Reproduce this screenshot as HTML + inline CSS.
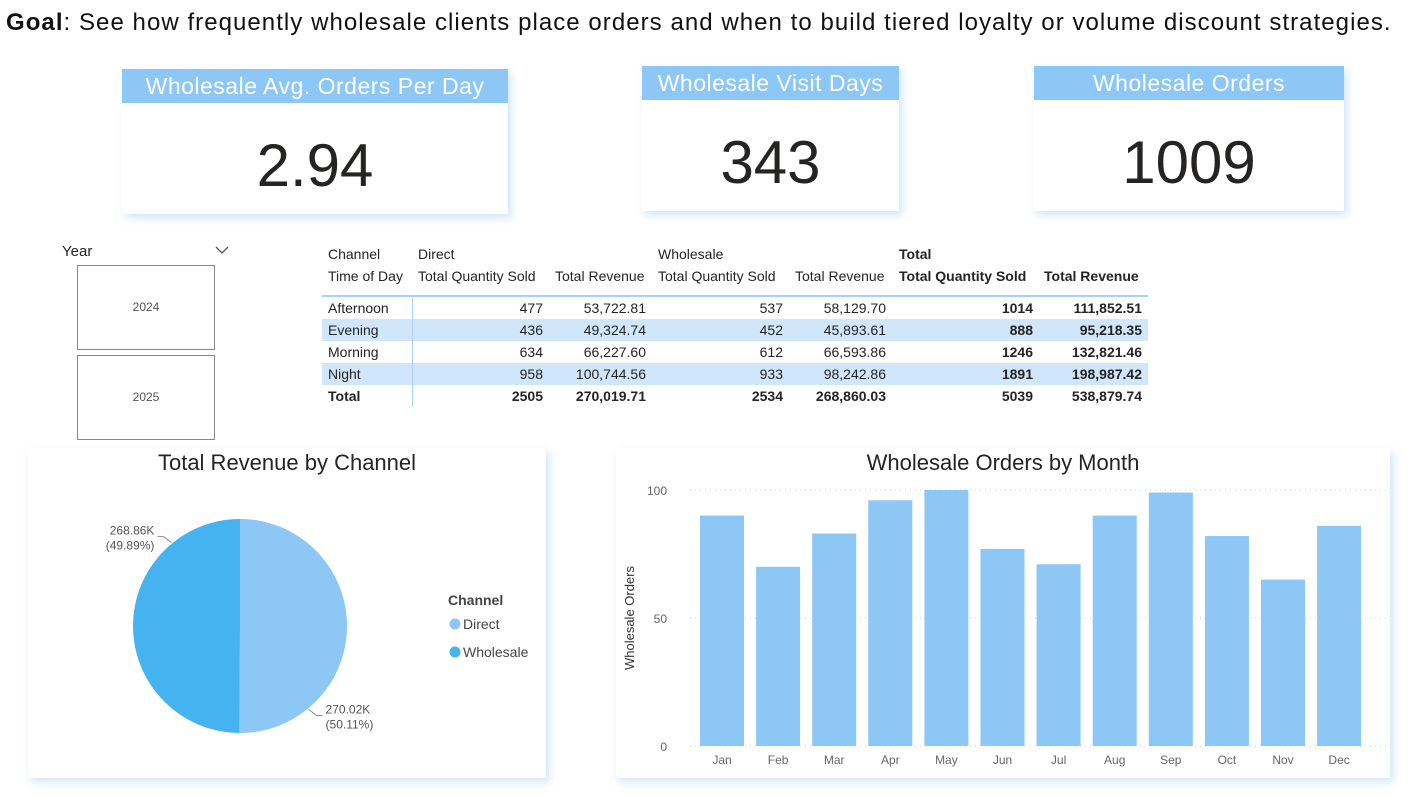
<!DOCTYPE html>
<html><head><meta charset="utf-8"><style>
body{margin:0;width:1416px;height:797px;background:#fff;font-family:"Liberation Sans",sans-serif;position:relative;overflow:hidden;color:#252423}
.abs{position:absolute}
.card{position:absolute;background:#fff;box-shadow:3px 4px 8px rgba(120,180,240,0.35)}
.hdr{position:absolute;left:0;right:0;top:0;height:34px;background:#8CC7F5;color:#fff;font-size:23px;text-align:center;line-height:34px;letter-spacing:0.5px}
.val{position:absolute;left:0;right:0;text-align:center;font-size:60px;color:#252423}
</style></head><body>
<div class="abs" style="left:6px;top:9px;font-size:24px;letter-spacing:1.05px;color:#111;white-space:nowrap"><b>Goal</b>: See how frequently wholesale clients place orders and when to build tiered loyalty or volume discount strategies.</div>

<div class="card" style="left:122px;top:69px;width:386px;height:145px"><div class="hdr">Wholesale Avg. Orders Per Day</div><div class="val" style="top:62px">2.94</div></div>
<div class="card" style="left:642px;top:66px;width:257px;height:145px"><div class="hdr">Wholesale Visit Days</div><div class="val" style="top:62px">343</div></div>
<div class="card" style="left:1034px;top:66px;width:310px;height:145px"><div class="hdr">Wholesale Orders</div><div class="val" style="top:62px">1009</div></div>

<div class="abs" style="left:62px;top:243px;font-size:15px">Year</div>
<svg class="abs" style="left:214px;top:245px" width="16" height="10"><polyline points="2,2 8,8 14,2" fill="none" stroke="#555" stroke-width="1.3"/></svg>
<div class="abs" style="left:77px;top:265px;width:136px;height:83px;border:1px solid #888;font-size:12px;color:#555;text-align:center;line-height:83px">2024</div>
<div class="abs" style="left:77px;top:355px;width:136px;height:83px;border:1px solid #888;font-size:12px;color:#555;text-align:center;line-height:83px">2025</div>

<div class="abs" style="left:0;top:0;width:1416px;height:420px;font-size:14px">
<div class="abs" style="left:322px;top:319px;width:826px;height:22px;background:#D0E7FB"></div>
<div class="abs" style="left:322px;top:363px;width:826px;height:22px;background:#D0E7FB"></div>
<div class="abs" style="left:322px;top:295px;width:826px;height:2px;background:#A9D2F6"></div>
<div class="abs" style="left:412px;top:297px;width:1px;height:110px;background:#A9D2F6"></div>
<div id="tbl"></div>
</div>

<div class="card" style="left:28px;top:448px;width:518px;height:330px"></div>
<div class="abs" style="left:28px;top:450px;width:518px;text-align:center;font-size:22px">Total Revenue by Channel</div>
<svg id="pie" class="abs" style="left:28px;top:448px" width="518" height="330"></svg>

<div class="card" style="left:616px;top:448px;width:774px;height:330px"></div>
<div class="abs" style="left:616px;top:450px;width:774px;text-align:center;font-size:22px">Wholesale Orders by Month</div>
<svg id="bar" class="abs" style="left:616px;top:448px" width="774" height="330"></svg>

<script>
const rowsT=[["Afternoon","477","53,722.81","537","58,129.70","1014","111,852.51"],["Evening","436","49,324.74","452","45,893.61","888","95,218.35"],["Morning","634","66,227.60","612","66,593.86","1246","132,821.46"],["Night","958","100,744.56","933","98,242.86","1891","198,987.42"],["Total","2505","270,019.71","2534","268,860.03","5039","538,879.74"]];
const rights=[543,646,783,886,1033,1142];
const tbl=document.getElementById('tbl');
function txt(s,x,y,opts){const d=document.createElement('div');d.className='abs';d.textContent=s;d.style.top=(y-8)+'px';if(opts&&opts.right){d.style.right=(1416-x)+'px';}else d.style.left=x+'px';if(opts&&opts.bold)d.style.fontWeight='bold';tbl.appendChild(d);}
txt("Channel",328,254);txt("Direct",418,254);txt("Wholesale",658,254);txt("Total",899,254,{bold:1});
txt("Time of Day",328,276);txt("Total Quantity Sold",418,276);txt("Total Revenue",555,276);txt("Total Quantity Sold",658,276);txt("Total Revenue",795,276);txt("Total Quantity Sold",899,276,{bold:1});txt("Total Revenue",1044,276,{bold:1});
rowsT.forEach((r,i)=>{const y=308+i*22;const tot=i==4;txt(r[0],328,y,{bold:tot});for(let j=1;j<7;j++)txt(r[j],rights[j-1],y,{right:1,bold:tot||j>=5});});

const channels=["Direct","Wholesale"];
const revenue=[270.02,268.86];
const pieColors=["#8CC7F5","#45B3F0"];
const NS="http://www.w3.org/2000/svg";
const pie=document.getElementById('pie');
function el(t,a,p){const e=document.createElementNS(NS,t);for(const k in a)e.setAttribute(k,a[k]);(p||pie).appendChild(e);return e;}
const cx=212,cy=178,R=107,total=revenue.reduce((a,b)=>a+b,0);
let ang=0;
revenue.forEach((v,i)=>{const a0=ang,a1=ang+v/total*2*Math.PI;ang=a1;
 const x0=cx+R*Math.sin(a0),y0=cy-R*Math.cos(a0),x1=cx+R*Math.sin(a1),y1=cy-R*Math.cos(a1);
 const p=el('path',{d:`M${cx},${cy}L${x0},${y0}A${R},${R} 0 ${a1-a0>Math.PI?1:0} 1 ${x1},${y1}Z`,fill:pieColors[i]});
 
 
 const mid=(a0+a1)/2+Math.PI*0.28;
 const lx=cx+(R+1)*Math.sin(mid),ly=cy-(R+1)*Math.cos(mid);
 const right=Math.sin(mid)>0;
 const ex=lx+(right?8:-8),ey=ly+(Math.cos(mid)<0?6:-6);
 el('polyline',{points:`${lx},${ly} ${ex},${ey} ${ex+(right?6:-6)},${ey}`,fill:'none',stroke:'#999'});
 const tx=ex+(right?9:-9);const anchor=right?'start':'end';
 const pct=(v/total*100).toFixed(2);
 const t1=el('text',{x:tx,y:ey-2,'font-size':12,fill:'#555','text-anchor':anchor});t1.textContent=v.toFixed(2)+'K';
 
 
 const t2=el('text',{x:tx,y:ey+13,'font-size':12,fill:'#555','text-anchor':anchor});t2.textContent='('+pct+'%)';
});
const lt=el('text',{x:420,y:157,'font-size':14,'font-weight':'bold',fill:'#444'});lt.textContent='Channel';
channels.forEach((c,i)=>{const y=176+i*28;
 const g=el('g',{});
 
 el('circle',{cx:427,cy:y,r:5.5,fill:pieColors[i]},g);
 const t=el('text',{x:435,y:y+5,'font-size':14,fill:'#444'},g);t.textContent=c;});

const months=["Jan","Feb","Mar","Apr","May","Jun","Jul","Aug","Sep","Oct","Nov","Dec"];
const orders=[90,70,83,96,100,77,71,90,99,82,65,86];
const yTicks=[0,50,100];
const bar=document.getElementById('bar');
function be(t,a){return el(t,a,bar);}
const x0=59,y0=298,yTop=42,ymax=100;
const ys=v=>y0-(v/ymax)*(y0-yTop);
yTicks.forEach(v=>{be('line',{x1:x0+15,x2:772,y1:ys(v),y2:ys(v),stroke:'#ccc','stroke-dasharray':'1,4'});
 const t=be('text',{x:x0-8,y:ys(v)+5,'font-size':12,fill:'#666','text-anchor':'end'});t.textContent=v;
 
 });
months.forEach((m,i)=>{const cxb=106+i*56.1;
 const r=be('rect',{x:cxb-22,y:ys(orders[i]),width:44,height:y0-ys(orders[i]),fill:'#8CC7F5'});
 
 
 const t=be('text',{x:cxb,y:y0+18,'font-size':12,fill:'#666','text-anchor':'middle'});t.textContent=m;
 
 });
const yt=be('text',{x:0,y:0,'font-size':13,fill:'#333','text-anchor':'middle',transform:'translate(18,170) rotate(-90)'});yt.textContent='Wholesale Orders';


</script>
</body></html>
